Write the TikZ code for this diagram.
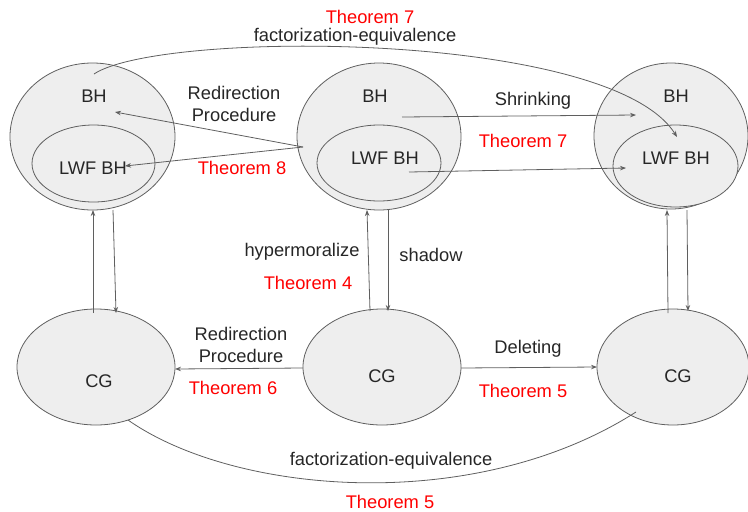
\documentclass[tikz,border=0pt]{standalone}
\usepackage{fontspec}
\setmainfont{Liberation Sans}
\usetikzlibrary{shapes.geometric,arrows.meta}
\definecolor{ln}{HTML}{5F5F5F}
\definecolor{fl}{HTML}{EEEEEE}
\definecolor{thm}{HTML}{FF0000}
\tikzset{
  blob/.style={ellipse, draw=ln, fill=fl, line width=0.8pt, inner sep=0pt},
  lbl/.style={font=\fontsize{18.3}{21.5}\selectfont, text=black!85, inner sep=0pt, align=center},
  thl/.style={font=\fontsize{18.3}{21.5}\selectfont, text=thm, inner sep=0pt},
  conn/.style={draw=ln, line width=0.8pt},
  arr/.style={conn, -{Stealth[length=6pt,width=4.5pt]}}
}
\begin{document}
\begin{tikzpicture}[x=1pt,y=-1pt]
\useasboundingbox (0,0) rectangle (748,512);
% top row
\node[blob, minimum width=165, minimum height=147] (bhL) at (92.5,136.5) {};
\node[blob, minimum width=123, minimum height=77] (lwfL) at (93.5,163.5) {};
\node[blob, minimum width=164, minimum height=147] (bhM) at (379,136.5) {};
\node[blob, minimum width=124, minimum height=76] (lwfM) at (379,163) {};
\node[blob, minimum width=154, minimum height=146] (bhR) at (671,136) {};
\node[blob, minimum width=125, minimum height=82] (lwfR) at (675.5,166) {};
\node[lbl] (tBHL) at (94,96) {BH};
\node[lbl] (tLWFL) at (93,168) {LWF BH};
\node[lbl] (tBHM) at (375,96) {BH};
\node[lbl] (tLWFM) at (385,158) {LWF BH};
\node[lbl] (tBHR) at (676,96) {BH};
\node[lbl] (tLWFR) at (676,158) {LWF BH};
% bottom row
\node[blob, minimum width=158, minimum height=116] (cgL) at (96,367) {};
\node[blob, minimum width=158, minimum height=116] (cgM) at (382,367) {};
\node[blob, minimum width=152, minimum height=116] (cgR) at (673,367) {};
\node[lbl] (tCGL) at (99,381) {CG};
\node[lbl] (tCGM) at (382,376) {CG};
\node[lbl] (tCGR) at (678,376) {CG};
% coordinates
\coordinate (rs) at (303,147);
\coordinate (rBH) at (115,112);
\coordinate (rLWF) at (125,166);
\coordinate (s1a) at (402,117);
\coordinate (s1b) at (636,115);
\coordinate (s2a) at (409,172);
\coordinate (s2b) at (626,168);
\coordinate (fa) at (94,74);
\coordinate (fb) at (677,137);
\coordinate (luA) at (93,313); \coordinate (luB) at (93,210);
\coordinate (ldA) at (113,210); \coordinate (ldB) at (116,313);
\coordinate (muA) at (370,311); \coordinate (muB) at (367,210);
\coordinate (mdA) at (388,210); \coordinate (mdB) at (388,311);
\coordinate (ruA) at (668,313); \coordinate (ruB) at (667,210);
\coordinate (rdA) at (687,210); \coordinate (rdB) at (688,311);
\coordinate (bra) at (303,368); \coordinate (brb) at (175,369);
\coordinate (dla) at (461,368); \coordinate (dlb) at (597,367);
\coordinate (ba) at (128,420); \coordinate (bb) at (636,412);
% connectors
\draw[arr] (rs) -- (rBH);
\draw[arr] (rs) -- (rLWF);
\draw[arr] (s1a) -- (s1b);
\draw[arr] (s2a) -- (s2b);
\draw[arr] (fa) .. controls (160,30) and (610,30) .. (fb);
\draw[arr] (luA) -- (luB);
\draw[arr] (ldA) -- (ldB);
\draw[arr] (muA) -- (muB);
\draw[arr] (mdA) -- (mdB);
\draw[arr] (ruA) -- (ruB);
\draw[arr] (rdA) -- (rdB);
\draw[arr] (bra) -- (brb);
\draw[arr] (dla) -- (dlb);
\draw[conn] (ba) .. controls (235,495) and (475,515) .. (bb);
% labels
\node[thl] (th7a) at (370,16.5) {Theorem 7};
\node[lbl] (fe1) at (355,37) {factorization-equivalence};
\node[lbl] (rp1) at (234,104) {Redirection\\Procedure};
\node[thl] (th8) at (242,168) {Theorem 8};
\node[lbl] (shr) at (533,101) {Shrinking};
\node[thl] (th7b) at (523,141) {Theorem 7};
\node[lbl] (hyp) at (302,252) {hypermoralize};
\node[lbl] (shd) at (431,255) {shadow};
\node[thl] (th4) at (308,283) {Theorem 4};
\node[lbl] (rp2) at (241,345) {Redirection\\Procedure};
\node[thl] (th6) at (233,388) {Theorem 6};
\node[lbl] (del) at (528,349) {Deleting};
\node[thl] (th5a) at (523,391) {Theorem 5};
\node[lbl] (fe2) at (391,461) {factorization-equivalence};
\node[thl] (th5b) at (390,502) {Theorem 5};
\end{tikzpicture}
\end{document}
